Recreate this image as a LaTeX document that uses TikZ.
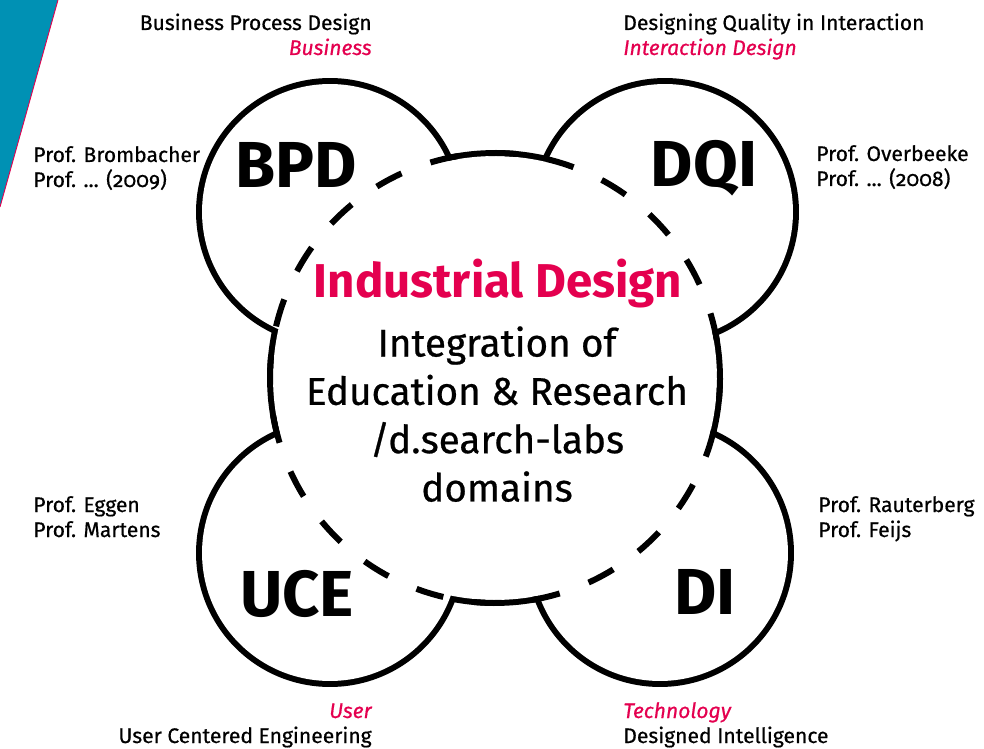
\documentclass[tikz,border=0pt]{standalone}
\usepackage{fontspec}
\setmainfont{Fira Sans}[Numbers=OldStyle,
    UprightFeatures={FakeBold=0.6}, ItalicFeatures={FakeBold=0.6}]
\usetikzlibrary{positioning}
\definecolor{idpink}{RGB}{228,0,79}
\definecolor{tuecyan}{RGB}{0,145,180}
\tikzset{
    lbl/.style={
    inner sep=0pt,font=\fontsize{12}{14}\selectfont
    },
    area/.style={
    inner sep=0pt,text=idpink,font=\fontsize{12}{14}\selectfont\itshape
    },
    lab/.style={
    inner sep=0pt,font=\fontsize{37}{40}\selectfont\bfseries
    },
    ring/.style={
    line width=0.12cm,dash pattern=on 0.56cm off 0.618cm
    },
}

\begin{document}
\begin{tikzpicture}[x=0.02cm, y=0.02cm]
   \useasboundingbox (0,0) rectangle (984,748);
   % corner flag
   \fill[tuecyan] (0,748) -- (58,748) -- (0,541) -- cycle;
   \draw[idpink, line width=0.5pt] (58,748) -- (0,541);

   % centres of the lab circles and the ring
   \coordinate (id) at (495,370);
   \coordinate (bpd) at (330,536);
   \coordinate (dqi) at (665,536);
   \coordinate (uce) at (330,195);
   \coordinate (di) at (660,195);

   % outline of the union: thick strokes, then white fill over them
   \foreach \c/\r in {id/4.44cm, bpd/2.56cm, dqi/2.56cm, uce/2.56cm, di/2.56cm}
     \draw[line width=0.24cm] (\c) circle[radius=\r];
   \foreach \c/\r in {id/4.44cm, bpd/2.56cm, dqi/2.56cm, uce/2.56cm, di/2.56cm}
     \fill[white] (\c) circle[radius=\r];
   \draw[ring] (id) ++(159.6:4.5cm) arc[start angle=159.6, delta angle=360, radius=4.5cm];

   % lab names
   \node[lab, anchor=base] (bpdlab) at (296,560) {BPD};
   \node[lab, anchor=base] (dqilab) at (704,561) {DQI};
   \node[lab, anchor=base] (ucelab) at (297,132) {UCE};
   \node[lab, anchor=base] (dilab) at (705,134) {DI};

   % centre text
   \node[inner sep=0pt, anchor=base, text=idpink, font=\fontsize{27}{30}\selectfont\bfseries] (idname) at (498,450) {Industrial Design};
   \node[inner sep=0pt, anchor=north, align=center, font=\fontsize{22}{27.5}\selectfont] (idtext) at (497,422)
     {Integration of\\Education \& Research\\/d.search-labs\\domains};

   % domains and chairs
   \node[lbl, anchor=base east] (bpdname) at (372,718) {Business Process Design};
   \node[area, anchor=base east] (bpdarea) at (372,693) {Business};
   \node[lbl, anchor=base west] (dqiname) at (623,718) {Designing Quality in Interaction};
   \node[area, anchor=base west] (dqiarea) at (623,693) {Interaction Design};
   \node[area, anchor=base east] (ucearea) at (372,30) {User};
   \node[lbl, anchor=base east] (ucename) at (372,5) {User Centered Engineering};
   \node[area, anchor=base west] (diarea) at (623,30) {Technology};
   \node[lbl, anchor=base west] (diname) at (623,5) {Designed Intelligence};

   \node[lbl, anchor=base west] (bpdprof) at (33,586) {Prof. Brombacher};
   \node[lbl, anchor=base west] (bpdnew) at (33,561) {Prof. ... (2009)};
   \node[lbl, anchor=base west] (dqiprof) at (816,587) {Prof. Overbeeke};
   \node[lbl, anchor=base west] (dqinew) at (816,562) {Prof. ... (2008)};
   \node[lbl, anchor=base west] (uceprof) at (33,236) {Prof. Eggen};
   \node[lbl, anchor=base west] (uceprof2) at (33,211) {Prof. Martens};
   \node[lbl, anchor=base west] (diprof) at (818,236) {Prof. Rauterberg};
   \node[lbl, anchor=base west] (diprof2) at (818,211) {Prof. Feijs};
\end{tikzpicture}
\end{document}
